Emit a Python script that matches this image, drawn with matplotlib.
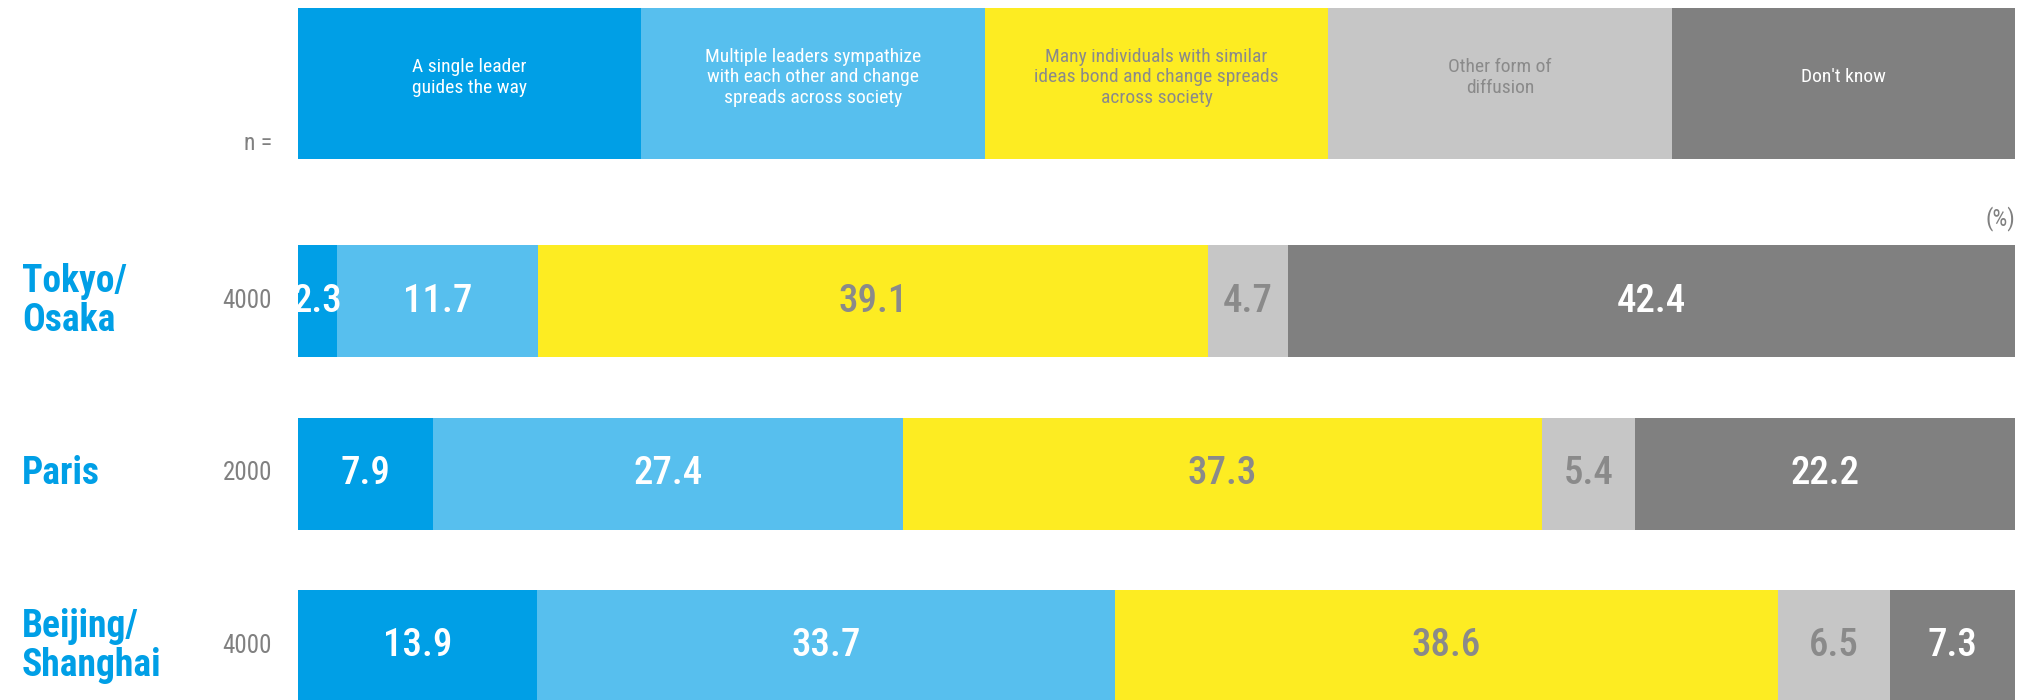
import matplotlib.pyplot as plt
from matplotlib.transforms import blended_transform_factory
from matplotlib import font_manager

cities = ["Tokyo/\nOsaka", "Paris", "Beijing/\nShanghai"]
n_values = ["4000", "2000", "4000"]
categories = ["A single leader\nguides the way",
              "Multiple leaders sympathize\nwith each other and change\nspreads across society",
              "Many individuals with similar\nideas bond and change spreads\nacross society",
              "Other form of\ndiffusion",
              "Don't know"]
values = [
    [2.3, 11.7, 39.1, 4.7, 42.4],
    [7.9, 27.4, 37.3, 5.4, 22.2],
    [13.9, 33.7, 38.6, 6.5, 7.3],
]
colors = ["#009fe6", "#57bfee", "#fdec22", "#c6c6c6", "#808080"]
text_colors = ["white", "white", "#8a8a8a", "#8a8a8a", "white"]

names = {f.name for f in font_manager.fontManager.ttflist}
fam = [f for f in ["Liberation Sans Narrow", "Roboto Condensed", "DejaVu Sans"] if f in names]
plt.rcParams['font.family'] = fam

W, H = 2023, 700
fig = plt.figure(figsize=(W / 100, H / 100), dpi=100)
ax = fig.add_axes([298 / W, 0, (2015 - 298) / W, 1])
ax.set_xlim(0, 100)
ax.set_ylim(H, 0)
ax.axis('off')

# header row
head_y, head_h = 83.5, 151
left = 0
for i, cat in enumerate(categories):
    w = 100 / len(categories)
    ax.barh(head_y, w, left=left, height=head_h, color=colors[i], edgecolor='none')
    ax.text(left + w / 2, head_y - 6, cat, ha='center', va='center', fontsize=14,
            color=text_colors[i], linespacing=1.2)
    left += w

row_y = [301, 473.5, 646]
row_h = 112
for r, vals in enumerate(values):
    total = sum(vals)
    left = 0
    for i, v in enumerate(vals):
        w = v / total * 100
        ax.barh(row_y[r], w, left=left, height=row_h, color=colors[i], edgecolor='none')
        ax.text(left + w / 2, row_y[r], f"{v:.1f}", ha='center', va='center',
                fontsize=28, fontweight='medium', color=text_colors[i])
        left += w

tr = blended_transform_factory(fig.transFigure, ax.transData)
for r in range(len(cities)):
    ax.text(22 / W, row_y[r], cities[r], transform=tr, ha='left', va='center',
            fontsize=27, fontweight='bold', color="#009fe6", linespacing=1.1)
    ax.text(272 / W, row_y[r], n_values[r], transform=tr, ha='right', va='center',
            fontsize=18, color="#808080")

ax.text(272 / W, 144, "n =", transform=tr, ha='right', va='center', fontsize=17, color="#808080")
ax.text(1.0, 219, "(%)", transform=blended_transform_factory(ax.transAxes, ax.transData),
        ha='right', va='center', fontsize=17, color="#808080")

fig.savefig("out.png", dpi=100)
